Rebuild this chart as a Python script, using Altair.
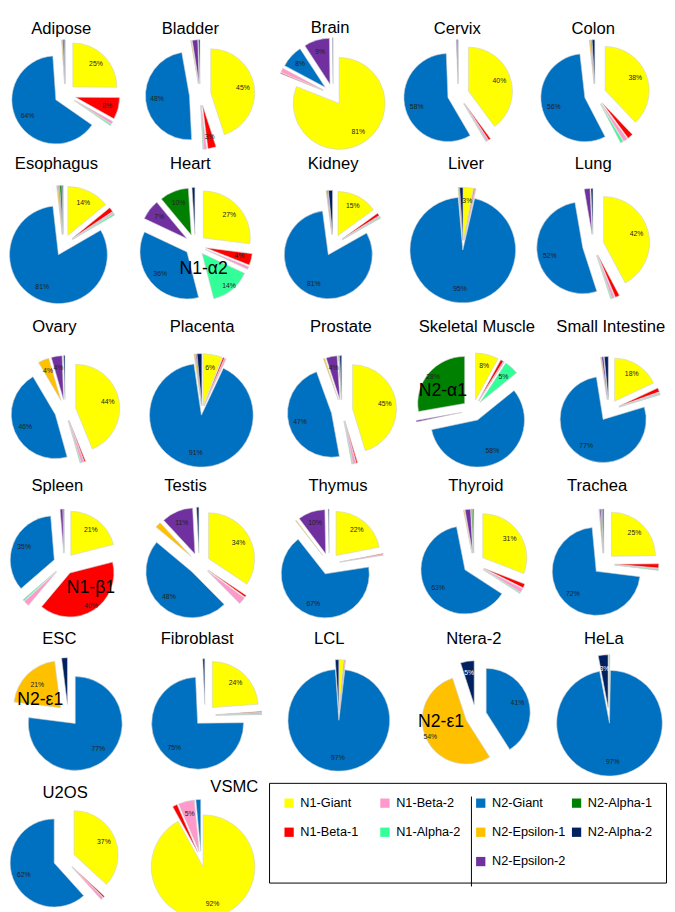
import math
import altair as alt
import pandas as pd

# ---------------- data ----------------
CATEGORIES = ["N1-Giant", "N1-Beta-1", "N1-Beta-2", "N1-Alpha-2",
              "N2-Giant", "N2-Epsilon-1", "N2-Epsilon-2", "N2-Alpha-1", "N2-Alpha-2"]
CAT_COLORS = ["#FFFF00", "#FF0000", "#FF99CC", "#33FF99",
              "#0070C0", "#FFC000", "#7030A0", "#008000", "#002060"]

TISSUES = ["Adipose", "Bladder", "Brain", "Cervix", "Colon",
           "Esophagus", "Heart", "Kidney", "Liver", "Lung",
           "Ovary", "Placenta", "Prostate", "Skeletal Muscle", "Small Intestine",
           "Spleen", "Testis", "Thymus", "Thyroid", "Trachea",
           "ESC", "Fibroblast", "LCL", "Ntera-2", "HeLa",
           "U2OS", "VSMC"]

# percentage of each isoform, one value per tissue (TISSUES order)
N1_GIANT     = [25, 45, 81, 40, 38, 14, 27, 15, 3, 42, 44, 6, 45, 8, 18, 21, 34, 22, 31, 25, 0, 24, 1.5, 0, 0, 37, 92]
N1_BETA_1    = [8, 3, 0.3, 0.8, 2, 1.5, 4, 1, 0.3, 1.5, 0.5, 0.5, 0.5, 1, 1.5, 40, 0.7, 0.3, 1.5, 1.5, 0, 0.3, 0.2, 0, 0, 0.5, 1.5]
N1_BETA_2    = [1, 1, 1.5, 0.7, 1.5, 0.5, 1, 0.5, 0.3, 1, 1, 0.5, 1, 0.3, 0.5, 2, 2.5, 0.3, 1.5, 0.3, 0, 0.5, 0.2, 0, 0, 1, 5]
N1_ALPHA_2   = [0.5, 0.2, 0, 0.2, 1, 0.5, 14, 0.3, 0, 0.3, 0.3, 0, 0.3, 5, 0.3, 0.5, 0, 0, 0.3, 0.3, 0, 0.2, 0, 0, 0.3, 0, 0]
N2_GIANT     = [64, 48, 8, 58, 56, 81, 36, 81, 95, 52, 46, 91, 47, 58, 77, 35, 48, 67, 63, 72, 77, 75, 97, 41, 97, 62, 1.5]
N2_EPSILON_1 = [0.3, 0.3, 0, 0, 0.5, 0.5, 0, 0.3, 0.2, 0, 4, 0.5, 0.5, 0, 0.3, 0, 2, 0.3, 0.3, 0.2, 21, 0, 0, 54, 0, 0, 0]
N2_EPSILON_2 = [0.5, 2, 9, 0.3, 0.3, 0.3, 7, 0.3, 0.2, 2, 4, 0.3, 4, 0.5, 0.7, 1, 11, 10, 2, 0.5, 0, 0, 0, 0, 0, 0, 0]
N2_ALPHA_1   = [0, 0, 0, 0, 0, 0.7, 10, 0, 0, 0, 0, 0, 0.3, 28, 0, 0, 0, 0, 0.5, 0.3, 0, 0, 0, 0, 0, 0, 0]
N2_ALPHA_2   = [0.3, 0.5, 0.2, 0.3, 1, 0.3, 1, 1.5, 1, 0.7, 0.5, 1.5, 0.7, 0, 1.5, 0.3, 0.8, 0.3, 0.3, 0.5, 2, 0.7, 1.1, 5, 3, 0, 0]

SERIES = [N1_GIANT, N1_BETA_1, N1_BETA_2, N1_ALPHA_2, N2_GIANT,
          N2_EPSILON_1, N2_EPSILON_2, N2_ALPHA_1, N2_ALPHA_2]

# large in-slice annotations
BIG_TISSUE = ["Heart", "Skeletal Muscle", "Spleen", "ESC", "Ntera-2"]
BIG_CAT = ["N1-Alpha-2", "N2-Alpha-1", "N1-Beta-1", "N2-Epsilon-1", "N2-Epsilon-1"]
BIG_TEXT = ["N1-\u03b12", "N2-\u03b11", "N1-\u03b21", "N2-\u03b51", "N2-\u03b51"]

# legend layout: 4 columns x 3 rows, filled column by column (blanks keep the layout)
LEGEND_ORDER = ["N1-Giant", "N1-Beta-1", " ",
                "N1-Beta-2", "N1-Alpha-2", "  ",
                "N2-Giant", "N2-Epsilon-1", "N2-Epsilon-2",
                "N2-Alpha-1", "N2-Alpha-2"]

rows = []
for ti, t in enumerate(TISSUES):
    for ci, c in enumerate(CATEGORIES):
        big = ""
        for bt, bc, tx in zip(BIG_TISSUE, BIG_CAT, BIG_TEXT):
            if bt == t and bc == c:
                big = tx
        rows.append({"tissue": t, "cat": c, "order": ci,
                     "value": SERIES[ci][ti], "big": big})
df = pd.DataFrame(rows)

# ---------------- styling / layout ----------------
FONT = "Liberation Sans"
W = 131
TITLE_H = 16
PITCH = [136, 165, 161, 154, 147]
ROW_H = [p - TITLE_H for p in PITCH] + [117]
CENTER = [58, 74, 76, 70, 69, 59]

# per-panel horizontal placement of pie and title (pixels from the cell centre)
PIE_DX = [-9, -2, 3, 0, 9,
          -11, -7, 3, 5, 7,
          -9, 0, 12, 11, 9,
          -10, -3, -1, 16, 12,
          -6, 3, 9, 18, 13,
          -10, -1]
TITLE_DX = [-13, -12, 0, -1, 7,
            -18, -12, 3, 8, 7,
            -20, 0, 11, 15, 11,
            -17, -17, 8, 18, 5,
            -15, -5, -1, 16, 8,
            -9, 33]

RADIUS = {t: 45 for t in TISSUES}
EXPL = {t: 11 for t in TISSUES}
RADIUS.update({"Brain": 47, "Esophagus": 50, "Heart": 48, "Skeletal Muscle": 48,
               "ESC": 48, "Lung": 47, "Testis": 47, "Fibroblast": 47,
               "Small Intestine": 44})
for t, r, d in [("Liver", 54, 5), ("Placenta", 53, 5), ("LCL", 52, 5),
                ("HeLa", 54, 8), ("VSMC", 53, 8)]:
    RADIUS[t] = r
    EXPL[t] = d

# radial position of the % label of annotated slices, and the offset of the big label from it
ANN_PCT = {"Heart": 0.9, "Skeletal Muscle": 0.88, "Spleen": 0.9, "ESC": 0.7, "Ntera-2": 0.9}
ANN_OFFSET = {"Heart": (-26, -17), "Skeletal Muscle": (10, 15), "Spleen": (0, -19),
              "ESC": (3, 16), "Ntera-2": (11, -15)}

color_map = dict(zip(CATEGORIES, CAT_COLORS))
legend_colors = [color_map.get(c, "#FFFFFF") for c in LEGEND_ORDER]
COLOR_SCALE = alt.Scale(domain=LEGEND_ORDER, range=legend_colors)
LEGEND = alt.Legend(title=None, orient="none", legendX=265, legendY=762,
                    columns=4, symbolType="square", symbolSize=90,
                    symbolStrokeWidth=0, labelFont=FONT, labelFontSize=13,
                    labelColor="black", labelLimit=0, gridAlign="all",
                    columnPadding=4, rowPadding=16, padding=14,
                    strokeColor="black", labelOffset=5)
THETA_SCALE = alt.Scale(domain=[0, 1], range=[0, 2 * math.pi])

# vertical divider between the N1 and N2 halves of the legend box (drawn in the last panel)
DIVIDER = alt.Chart(pd.DataFrame({"tissue": ["_"], "order": [0], "value": [1]})).mark_rule(
    color="black", strokeWidth=1
).encode(x=alt.value(341), y=alt.value(-5), y2=alt.value(87))


def pie(idx, h, c):
    name = TISSUES[idx]
    R = RADIUS[name]
    D = EXPL[name]
    px = PIE_DX[idx]
    xsc = alt.Scale(domain=[-W / 2 - px, W / 2 - px])
    ysc = alt.Scale(domain=[-(h - c), c])
    ann = ANN_PCT.get(name, 0.74)
    lf = f"({D} + (datum.big != '' ? {ann * R} : {0.74 * R}))"
    base = alt.Chart().transform_filter(
        alt.datum.tissue == name
    ).transform_calculate(
        dx=f"{D}*sin(datum.mid)", dy=f"{D}*cos(datum.mid)",
        lx=f"{lf}*sin(datum.mid)", ly=f"{lf}*cos(datum.mid)",
    )
    arcs = base.mark_arc(radius=R, stroke="#d0d0d0", strokeWidth=0.6).encode(
        x=alt.X("dx:Q", scale=xsc, axis=None),
        y=alt.Y("dy:Q", scale=ysc, axis=None),
        theta=alt.Theta("t0:Q", stack=None, scale=THETA_SCALE),
        theta2="t1:Q",
        color=alt.Color("cat:N", scale=COLOR_SCALE, legend=LEGEND),
    )
    pct = base.transform_filter("datum.value >= 3").mark_text(
        font=FONT, fontSize=7
    ).encode(
        x=alt.X("lx:Q", scale=xsc, axis=None),
        y=alt.Y("ly:Q", scale=ysc, axis=None),
        text="lab:N",
        color=alt.condition("datum.cat == 'N2-Alpha-2'",
                            alt.value("white"), alt.value("#222222")),
    )
    layers = [arcs, pct]
    if name in ANN_OFFSET:
        ddx, ddy = ANN_OFFSET[name]
        big = base.transform_filter("datum.big != ''").mark_text(
            font=FONT, fontSize=18, color="black", dx=ddx, dy=ddy
        ).encode(
            x=alt.X("lx:Q", scale=xsc, axis=None),
            y=alt.Y("ly:Q", scale=ysc, axis=None),
            text="big:N",
        )
        layers.append(big)
    if idx == len(TISSUES) - 1:
        layers.append(DIVIDER)
    return alt.layer(*layers).properties(
        width=W, height=h,
        title=alt.TitleParams(name, font=FONT, fontSize=17, fontWeight="normal",
                              color="black", anchor="middle", offset=0,
                              dx=TITLE_DX[idx]),
    )


row_charts = []
for r in range(6):
    idxs = range(r * 5, min((r + 1) * 5, len(TISSUES)))
    panels = [pie(i, ROW_H[r], CENTER[r]) for i in idxs]
    row_charts.append(
        alt.hconcat(*panels, spacing=0).resolve_scale(
            x="independent", y="independent", color="shared")
    )

chart = alt.vconcat(*row_charts, data=df, spacing=0).transform_filter(
    "datum.value > 0"
).transform_joinaggregate(
    total="sum(value)", groupby=["tissue"]
).transform_window(
    cum="sum(value)", sort=[alt.SortField("order")], groupby=["tissue"], frame=[None, 0]
).transform_calculate(
    t0="(datum.cum - datum.value) / datum.total",
    t1="datum.cum / datum.total",
    mid="PI * (2 * datum.cum - datum.value) / datum.total",
    lab="datum.value + '%'",
).resolve_scale(
    x="independent", y="independent", color="shared"
).properties(
    padding=0, background="white"
).configure_view(stroke=None)

chart.save("out.html", embed_options={"renderer": "svg", "actions": False})
